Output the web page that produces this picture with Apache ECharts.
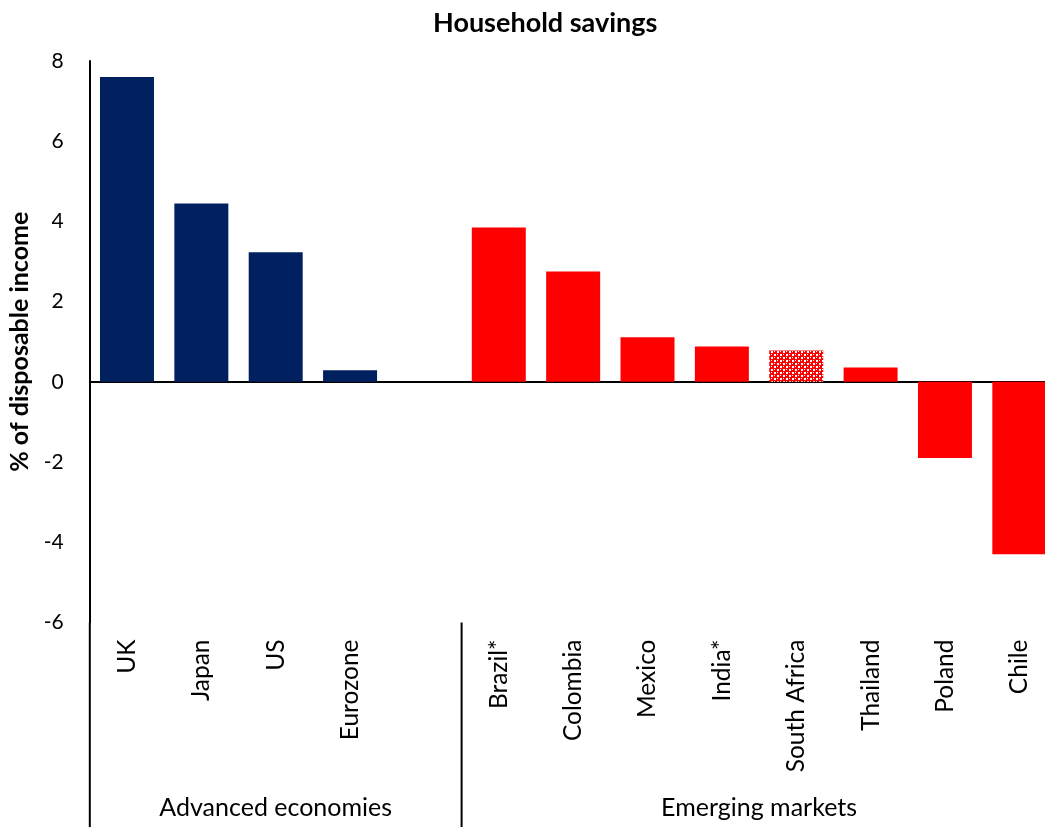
<!DOCTYPE html>
<html>
<head>
<meta charset="utf-8">
<script src="https://cdn.jsdelivr.net/npm/echarts@6/dist/echarts.min.js"></script>
<style>
  html, body { margin: 0; padding: 0; background: #fff; }
  #chart { width: 1045px; height: 827px; }
</style>
</head>
<body>
<div id="chart"></div>
<script>
// Household savings, % of disposable income
const categories = ['UK', 'Japan', 'US', 'Eurozone', '', 'Brazil*', 'Colombia', 'Mexico', 'India*', 'South Africa', 'Thailand', 'Poland', 'Chile'];
const savings = [7.6, 4.45, 3.23, 0.29, null, 3.85, 2.75, 1.11, 0.88, 0.78, 0.36, -1.9, -4.3];
// group of each category: 'adv' advanced, 'em' emerging, 'em-est' emerging (hatched)
const groupOf = ['adv', 'adv', 'adv', 'adv', null, 'em', 'em', 'em', 'em', 'em-est', 'em', 'em', 'em'];
const groups = [
  { name: 'Advanced economies', from: 0, to: 4 },
  { name: 'Emerging markets', from: 5, to: 12 }
];
const yTicks = { min: -6, max: 8, step: 2 };

const NAVY = '#002060';
const RED = '#FF0000';
const FONT = 'Lato';

// red/white checker tile for the hatched bar
function checkerTile() {
  const c = document.createElement('canvas');
  c.width = 6; c.height = 6;
  const g = c.getContext('2d');
  g.fillStyle = RED; g.fillRect(0, 0, 6, 6);
  g.fillStyle = '#ffffff';
  g.fillRect(0, 0, 2, 2);
  g.fillRect(3, 3, 2, 2);
  g.fillRect(3, 0, 1, 1);
  g.fillRect(0, 3, 1, 1);
  return c;
}
const hatch = { image: checkerTile(), repeat: 'repeat' };

function colorFor(g) {
  if (g === 'adv') return NAVY;
  if (g === 'em-est') return hatch;
  return RED;
}

const barData = savings.map((v, i) => ({
  value: v,
  itemStyle: { color: colorFor(groupOf[i]) }
}));

const chart = echarts.init(document.getElementById('chart'), null, { renderer: 'canvas' });

const option = {
  animation: false,
  backgroundColor: '#ffffff',
  title: {
    text: 'Household savings',
    left: 428,
    top: 5,
    textStyle: { fontFamily: FONT, fontWeight: 'bold', fontSize: 27, color: '#000' }
  },
  // plot area runs a little past the right edge of the page
  grid: {
    left: 89.8, width: 966.7, top: 61, height: 561.5,
    containLabel: false, outerBoundsMode: 'none'
  },
  xAxis: [
    {
      type: 'category',
      data: categories,
      position: 'bottom',
      axisLine: { show: false, onZero: false },
      axisTick: { show: false },
      axisLabel: {
        rotate: 90, interval: 0, margin: 17,
        fontFamily: FONT, fontSize: 24.5, color: '#000'
      }
    },
    {
      type: 'category',
      data: categories,
      position: 'bottom',
      axisLine: { show: true, onZero: true, lineStyle: { color: '#000', width: 2 } },
      axisTick: { show: false },
      axisLabel: { show: false }
    }
  ],
  yAxis: {
    type: 'value',
    min: yTicks.min, max: yTicks.max, interval: yTicks.step,
    name: '% of disposable income',
    nameLocation: 'middle',
    nameGap: 52,
    nameTextStyle: { fontFamily: FONT, fontWeight: 'bold', fontSize: 25, color: '#000' },
    axisLine: { show: true, lineStyle: { color: '#000', width: 2 } },
    axisTick: { show: false },
    splitLine: { show: false },
    axisLabel: { margin: 26, fontFamily: FONT, fontSize: 21, color: '#000' }
  },
  series: [
    {
      type: 'bar',
      xAxisIndex: 0,
      data: barData,
      barWidth: '72.6%'
    }
  ]
};

chart.setOption(option);

// group brackets below the category labels
function drawGroups() {
  const px = i => chart.convertToPixel({ xAxisIndex: 0 }, i);
  const py = v => chart.convertToPixel({ yAxisIndex: 0 }, v);
  const H = chart.getHeight();
  const yBottomAxis = py(yTicks.min);
  const step = px(1) - px(0);
  const leftEdge = px(0) - step / 2;
  const elements = [];
  // extend the value axis line down through the label band
  elements.push({
    type: 'line', silent: true,
    shape: { x1: leftEdge, y1: yBottomAxis, x2: leftEdge, y2: H },
    style: { stroke: '#000', lineWidth: 2 }
  });
  // separator between groups
  for (let k = 1; k < groups.length; k++) {
    const x = (px(groups[k - 1].to) + px(groups[k].from)) / 2;
    elements.push({
      type: 'line', silent: true,
      shape: { x1: x, y1: yBottomAxis, x2: x, y2: H },
      style: { stroke: '#000', lineWidth: 2 }
    });
  }
  groups.forEach(g => {
    const cx = (px(g.from) + px(g.to)) / 2;
    elements.push({
      type: 'text', silent: true,
      x: cx, y: H - 19,
      style: {
        text: g.name, fontFamily: FONT, fontSize: 25, fill: '#000',
        align: 'center', verticalAlign: 'middle'
      }
    });
  });
  chart.setOption({ graphic: elements });
}
drawGroups();
</script>
</body>
</html>
